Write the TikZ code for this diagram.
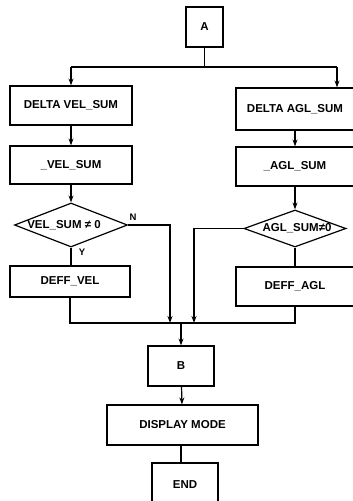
\documentclass[tikz,border=0pt]{standalone}
\usepackage{fontspec}
\setmainfont{Liberation Sans}
\usetikzlibrary{shapes.geometric,arrows.meta}
\begin{document}
\begin{tikzpicture}[x=1pt,y=-1pt,line width=1.2pt,
  txt/.style={font=\fontsize{11.5}{13}\selectfont\bfseries},
  box/.style={draw,rectangle,inner sep=0pt,txt},
  dia/.style={draw,diamond,inner sep=0pt},
  lbl/.style={font=\fontsize{9.5}{10}\selectfont\bfseries,inner sep=0pt},
  arr/.style={-{Stealth[length=7pt,width=5pt]}}]
\clip (0,0) rectangle (353,501);
\fill[white] (0,0) rectangle (353,501);
% boxes
\node[box,minimum width=37pt,minimum height=40pt] (A) at (204.5,27) {A};
\node[box,minimum width=122pt,minimum height=39pt] (dv) at (71,105.5) {DELTA VEL\_SUM};
\node[box,minimum width=122pt,minimum height=38pt] (vs) at (71,165) {\_VEL\_SUM};
\node[dia,minimum width=113pt,minimum height=44pt] (d1) at (71,225) {};
\node[txt,inner sep=0pt] (t1) at (64,225) {VEL\_SUM ≠ 0};
\node[box,minimum width=120pt,minimum height=31pt] (dfv) at (70,281.5) {DEFF\_VEL};
\node[box,minimum width=118pt,minimum height=42pt] (da) at (295,109) {DELTA AGL\_SUM};
\node[box,minimum width=118pt,minimum height=39pt] (as) at (295,166.5) {\_AGL\_SUM};
\node[dia,minimum width=102pt,minimum height=37pt] (d2) at (295,228.5) {};
\node[txt,inner sep=0pt] (t2) at (297,228.5) {AGL\_SUM≠0};
\node[box,minimum width=118pt,minimum height=39pt] (dfa) at (295,286.5) {DEFF\_AGL};
\node[box,minimum width=66pt,minimum height=40pt] (B) at (181,366) {B};
\node[box,minimum width=151pt,minimum height=40pt] (dm) at (182.5,425) {DISPLAY MODE};
\node[box,minimum width=66pt,minimum height=44pt] (E) at (185,485) {END};
\node[lbl] (n) at (133,217) {N};
\node[lbl] (y) at (82,252) {Y};
% coordinates
\coordinate (s) at (204.5,67);
\coordinate (sl) at (71,67);
\coordinate (sr) at (337,67);
\coordinate (nb) at (170,323);
\coordinate (lb) at (194,323);
\coordinate (ml) at (70,323);
\coordinate (mr) at (295,323);
\coordinate (mb) at (181,323);
\coordinate (ex) at (181,445);
% connectors
\draw (A.south) -- (s);
\draw (sl) -- (sr);
\draw[arr] (sl) -- (dv.north);
\draw[arr] (sr) -- (sr |- da.north);
\draw[arr] (dv) -- (vs);
\draw[arr] (vs) -- (d1);
\draw (d1.south) -- (d1.south |- dfv.north);
\draw[arr] (da) -- (as);
\draw[arr] (as) -- (d2);
\draw (d2.south) -- (dfa.north);
\draw[arr] (d1.east) -| (nb);
\draw[arr] (d2.west) -| (lb);
\draw (dfv.south) -- (ml) -- (mr) -- (dfa.south);
\draw[arr] (mb) -- (B);
\draw[arr] (B) -- (dm);
\draw (ex) -- (ex |- E.north);
\end{tikzpicture}
\end{document}
